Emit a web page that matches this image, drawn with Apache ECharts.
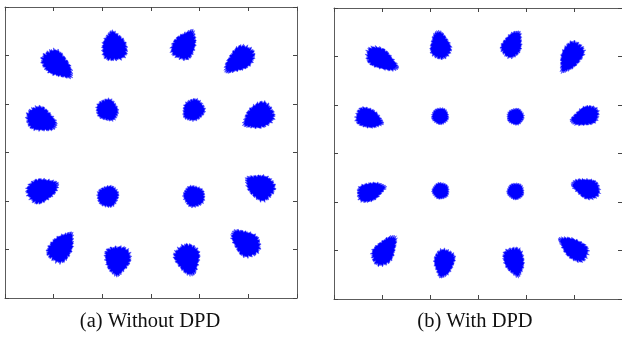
<!DOCTYPE html>
<html>
<head>
<meta charset="utf-8">
<style>
  html, body { margin: 0; padding: 0; background: #ffffff; }
  #chart { width: 622px; height: 338px; }
</style>
<script src="https://cdn.jsdelivr.net/npm/echarts@6/dist/echarts.min.js"></script>
</head>
<body>
<div id="chart"></div>
<script>
// Axis range of both constellation panels (normalised I/Q units)
const axisMin = -3;
const axisMax = 3;
const axisStep = 1;

// Panel captions
const captions = ['(a) Without DPD', '(b) With DPD'];

// 16-QAM received clusters without DPD: centre (I, Q), spread along the
// long and short axis, direction of the wide end (deg) and taper amount
const noDpdI      = [-1.91, -0.76, 0.70, 1.80, -2.24, -0.89, 0.87, 2.20, -2.22, -0.88, 0.88, 2.23, -1.83, -0.69, 0.76, 1.93];
const noDpdQ      = [1.80, 2.20, 2.23, 1.90, 0.67, 0.87, 0.87, 0.74, -0.77, -0.90, -0.90, -0.70, -1.94, -2.24, -2.22, -1.85];
const noDpdMajor  = [0.36, 0.30, 0.32, 0.35, 0.32, 0.23, 0.23, 0.33, 0.33, 0.22, 0.22, 0.31, 0.34, 0.30, 0.32, 0.33];
const noDpdMinor  = [0.22, 0.245, 0.22, 0.21, 0.23, 0.21, 0.21, 0.24, 0.23, 0.21, 0.21, 0.24, 0.22, 0.25, 0.24, 0.23];
const noDpdAngle  = [140, -80, -120, 40, 155, 135, 45, 30, -160, -135, -45, -30, -125, 85, 105, -40];
const noDpdTaper  = [0.4, 0.35, 0.4, 0.4, 0.35, 0.15, 0.15, 0.35, 0.35, 0.1, 0.1, 0.35, 0.4, 0.4, 0.4, 0.35];

// 16-QAM received clusters with DPD
const dpdI        = [-1.99, -0.79, 0.72, 1.93, -2.26, -0.79, 0.78, 2.22, -2.22, -0.78, 0.78, 2.24, -1.93, -0.71, 0.76, 1.98];
const dpdQ        = [1.93, 2.24, 2.26, 1.98, 0.72, 0.77, 0.76, 0.76, -0.78, -0.77, -0.78, -0.71, -1.99, -2.27, -2.24, -1.95];
const dpdMajor    = [0.36, 0.285, 0.285, 0.34, 0.29, 0.17, 0.17, 0.30, 0.30, 0.17, 0.17, 0.30, 0.34, 0.29, 0.30, 0.34];
const dpdMinor    = [0.19, 0.2, 0.19, 0.2, 0.19, 0.165, 0.165, 0.18, 0.18, 0.165, 0.165, 0.19, 0.2, 0.2, 0.2, 0.19];
const dpdAngle    = [150, -80, -115, 60, 160, 0, 0, 20, -160, 0, 0, -20, -125, 80, 105, -35];
const dpdTaper    = [0.4, 0.35, 0.35, 0.4, 0.35, 0.05, 0.05, 0.35, 0.35, 0.05, 0.05, 0.35, 0.4, 0.35, 0.35, 0.4];

function clusters(iv, qv, major, minor, angle, taper) {
  return iv.map((v, k) => [v, qv[k], major[k], minor[k], angle[k], taper[k]]);
}

// Each cluster is drawn as a filled, ragged egg-shaped blob; every outline
// vertex is built in data units and mapped through the axes.
function renderCluster(params, api) {
  const cx = api.value(0), cy = api.value(1);
  const a = api.value(2), b = api.value(3);
  const ang = api.value(4) * Math.PI / 180;
  const t = api.value(5);
  const s = params.dataIndex * 1.7 + params.seriesIndex * 0.9;
  const n = 200;
  const pts = [];
  for (let k = 0; k < n; k++) {
    const p = 2 * Math.PI * k / n;
    const rough = 1
      + 0.05 * Math.sin(23 * p + s)
      + 0.04 * Math.sin(41 * p + 2 * s)
      + 0.035 * Math.sin(67 * p + 0.5 + s)
      + 0.03 * Math.sin(5 * p + 3 * s);
    const u = a * Math.cos(p) * rough;
    const v = b * Math.sin(p) * (1 + t * Math.cos(p)) * rough;
    const x = cx + u * Math.cos(ang) - v * Math.sin(ang);
    const y = cy + u * Math.sin(ang) + v * Math.cos(ang);
    pts.push(api.coord([x, y]));
  }
  return {
    type: 'polygon',
    shape: { points: pts },
    style: { fill: '#0000ff', stroke: 'rgba(70,70,255,0.55)', lineWidth: 1 }
  };
}

const frameLine = { show: true, onZero: false, lineStyle: { color: '#5c5c5c', width: 1 } };
const innerTick = { show: true, inside: true, length: 4, lineStyle: { color: '#444444', width: 1 } };

function makeAxis(gridIndex, position) {
  return {
    type: 'value',
    gridIndex: gridIndex,
    position: position,
    min: axisMin,
    max: axisMax,
    interval: axisStep,
    axisLine: frameLine,
    axisTick: innerTick,
    axisLabel: { show: false },
    splitLine: { show: false }
  };
}

const captionFont = '"Liberation Serif", "DejaVu Serif", serif';

const chart = echarts.init(document.getElementById('chart'), null, { renderer: 'canvas' });

chart.setOption({
  animation: false,
  backgroundColor: '#ffffff',
  grid: [
    { left: 5, top: 7, width: 292, height: 291 },
    { left: 334, top: 8, width: 294, height: 291 }
  ],
  xAxis: [
    makeAxis(0, 'bottom'), makeAxis(0, 'top'),
    makeAxis(1, 'bottom'), makeAxis(1, 'top')
  ],
  yAxis: [
    makeAxis(0, 'left'), makeAxis(0, 'right'),
    makeAxis(1, 'left'), makeAxis(1, 'right')
  ],
  series: [
    {
      name: captions[0],
      type: 'custom',
      xAxisIndex: 0,
      yAxisIndex: 0,
      clip: true,
      renderItem: renderCluster,
      data: clusters(noDpdI, noDpdQ, noDpdMajor, noDpdMinor, noDpdAngle, noDpdTaper)
    },
    {
      name: captions[1],
      type: 'custom',
      xAxisIndex: 2,
      yAxisIndex: 2,
      clip: true,
      renderItem: renderCluster,
      data: clusters(dpdI, dpdQ, dpdMajor, dpdMinor, dpdAngle, dpdTaper)
    }
  ],
  graphic: [
    {
      type: 'text',
      style: {
        text: captions[0], x: 150, y: 322, align: 'center', verticalAlign: 'middle',
        fontFamily: captionFont, fontSize: 20.5, fill: '#111111'
      }
    },
    {
      type: 'text',
      style: {
        text: captions[1], x: 475, y: 322, align: 'center', verticalAlign: 'middle',
        fontFamily: captionFont, fontSize: 20.5, fill: '#111111'
      }
    }
  ]
});
</script>
</body>
</html>
